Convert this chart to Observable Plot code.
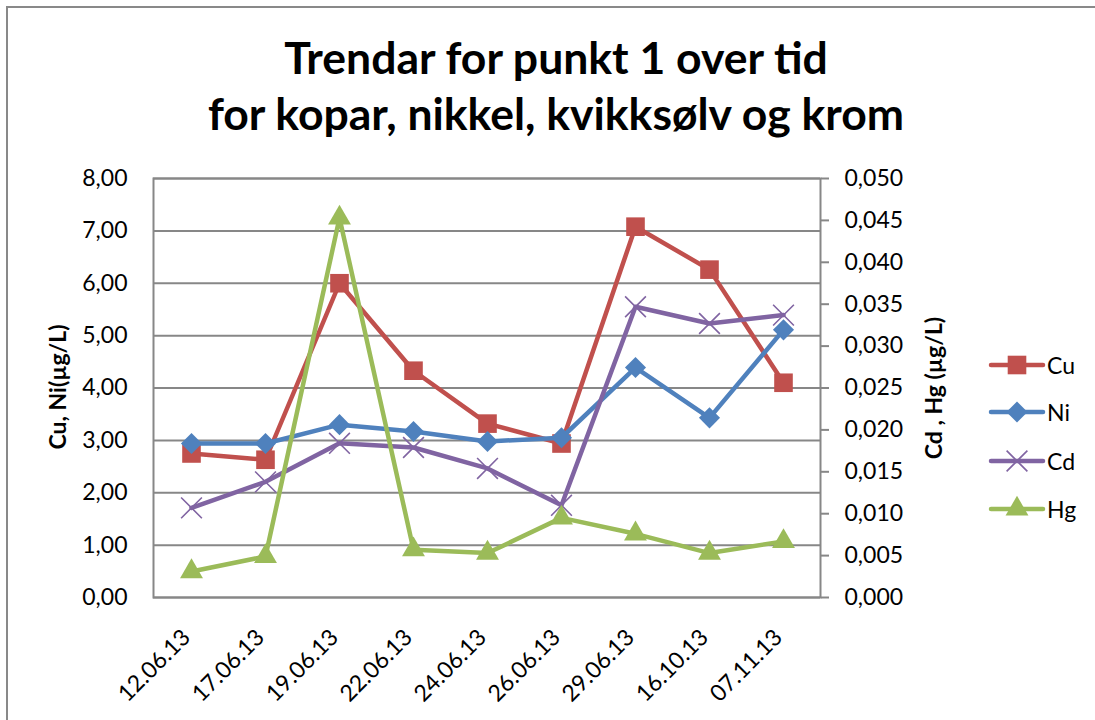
<!DOCTYPE html>
<html>
<head>
<meta charset="utf-8">
<script src="https://cdn.jsdelivr.net/npm/d3@7"></script>
<script src="https://cdn.jsdelivr.net/npm/@observablehq/plot@0.6"></script>
<style>
  body { margin: 0; background: #fff; font-family: Lato, "Open Sans", sans-serif; color: #000; }
  #chart { position: relative; width: 1095px; height: 720px; overflow: hidden; background: #fff; }
  #border { position: absolute; left: 6px; top: 6px; width: 1200px; height: 800px;
            border-left: 2px solid #898989; border-top: 2px solid #898989; }
  #title { position: absolute; left: 0; top: 29px; width: 1112px; text-align: center;
           font-weight: 700; font-size: 44.5px; line-height: 56px; white-space: nowrap; }
  #plot { position: absolute; left: 0; top: 150px; }
  .ytitle { position: absolute; font-weight: 700; font-size: 23px; white-space: nowrap;
            transform: translate(-50%, -50%) rotate(-90deg); }
  #legend { position: absolute; left: 988px; top: 0; }
  .item { position: absolute; left: 0; display: flex; align-items: center; font-size: 23px; white-space: nowrap; }
  .item svg { display: block; }
</style>
</head>
<body>
<div id="chart">
  <div id="border"></div>
  <div id="title">Trendar for punkt 1 over tid<br>for kopar, nikkel, kvikksølv og krom</div>
  <div id="plot"></div>
  <div class="ytitle" style="left:57px; top:387px;">Cu, Ni(µg/L)</div>
  <div class="ytitle" style="left:933px; top:388px;">Cd , Hg (µg/L)</div>
  <div id="legend"></div>
</div>
<script>
// Sampling dates (category axis)
const dates = ["12.06.13", "17.06.13", "19.06.13", "22.06.13", "24.06.13", "26.06.13", "29.06.13", "16.10.13", "07.11.13"];

// Primary axis series (µg/L)
const cu = [2.75, 2.63, 6.00, 4.33, 3.32, 2.94, 7.08, 6.26, 4.10];
const ni = [2.94, 2.94, 3.30, 3.17, 2.98, 3.05, 4.39, 3.43, 5.11];

// Secondary axis series (µg/L)
const cd = [0.0107, 0.0138, 0.0184, 0.0179, 0.0154, 0.0110, 0.0347, 0.0327, 0.0337];
const hg = [0.0031, 0.0049, 0.0453, 0.0057, 0.0053, 0.0095, 0.0076, 0.0053, 0.0067];

// Axis tick values
const leftTicks = [0, 1, 2, 3, 4, 5, 6, 7, 8];
const rightTicks = [0, 0.005, 0.010, 0.015, 0.020, 0.025, 0.030, 0.035, 0.040, 0.045, 0.050];

const leftMax = 8, rightMax = 0.05;
const K = leftMax / rightMax; // maps secondary values onto the primary scale

const gray = "#878787";
const series = [
  {name: "Cu", values: cu, k: 1, color: "#C0504D", symbol: "square",   r: 10.5},
  {name: "Ni", values: ni, k: 1, color: "#4F81BD", symbol: "diamond2", r: 9.5},
  {name: "Cd", values: cd, k: K, color: "#8064A2", symbol: "times",    r: 9.5},
  {name: "Hg", values: hg, k: K, color: "#9BBB59", symbol: "triangle", r: 8.5}
];

const comma = (v, n) => v.toFixed(n).replace(".", ",");

const seriesMarks = series.flatMap(s => {
  const rows = dates.map((d, i) => ({date: d, v: s.values[i] * s.k}));
  const stroked = s.symbol === "times";
  return [
    Plot.line(rows, {x: "date", y: "v", stroke: s.color, strokeWidth: 4.5}),
    Plot.dot(rows, stroked
      ? {x: "date", y: "v", symbol: s.symbol, r: s.r, stroke: s.color, strokeWidth: 1.6, fill: "none"}
      : {x: "date", y: "v", symbol: s.symbol, r: s.r, fill: s.color, stroke: "none"})
  ];
});

const chart = Plot.plot({
  width: 1095,
  height: 570,
  marginTop: 28,
  marginBottom: 123,
  marginLeft: 153,
  marginRight: 275,
  style: {fontFamily: "Lato, 'Open Sans', sans-serif", fontSize: "23px", color: "#000", background: "transparent", overflow: "visible"},
  x: {type: "band", domain: dates, padding: 0},
  y: {domain: [0, leftMax]},
  marks: [
    Plot.gridY(leftTicks, {stroke: gray, strokeOpacity: 1, strokeWidth: 2}),
    Plot.frame({stroke: gray, strokeWidth: 2}),
    Plot.axisY(leftTicks, {anchor: "left", tickSize: 0, tickPadding: 26, tickFormat: d => comma(d, 2), label: null}),
    Plot.axisY(rightTicks.map(v => v * K), {anchor: "right", tickSize: 8, tickPadding: 16,
      tickFormat: d => comma(d / K, 3), stroke: gray, strokeWidth: 2, label: null}),
    Plot.axisX({tickRotate: -45, tickSize: 0, tickPadding: 34, dx: -5, dy: 2, label: null}),
    ...seriesMarks
  ]
});
document.getElementById("plot").appendChild(chart);

// Legend: line swatch with the series marker, then the name
const legend = document.getElementById("legend");
const legendRows = [365, 412, 461, 509];
const symbolTypes = {square: d3.symbolSquare, diamond2: d3.symbolDiamond2, times: d3.symbolTimes, triangle: d3.symbolTriangle};
series.forEach((s, i) => {
  const item = document.createElement("div");
  item.className = "item";
  item.style.top = (legendRows[i] - 14) + "px";
  const svg = d3.create("svg").attr("width", 58).attr("height", 28);
  svg.append("line").attr("x1", 3).attr("x2", 55).attr("y1", 14).attr("y2", 14)
    .attr("stroke", s.color).attr("stroke-width", 4.5).attr("stroke-linecap", "round");
  const path = d3.symbol(symbolTypes[s.symbol], Math.PI * s.r * s.r)();
  const p = svg.append("path").attr("d", path).attr("transform", "translate(29,14)");
  if (s.symbol === "times") p.attr("fill", "none").attr("stroke", s.color).attr("stroke-width", 1.6);
  else p.attr("fill", s.color);
  item.appendChild(svg.node());
  const label = document.createElement("span");
  label.textContent = s.name;
  label.style.marginLeft = "1px";
  item.appendChild(label);
  legend.appendChild(item);
});
</script>
</body>
</html>
